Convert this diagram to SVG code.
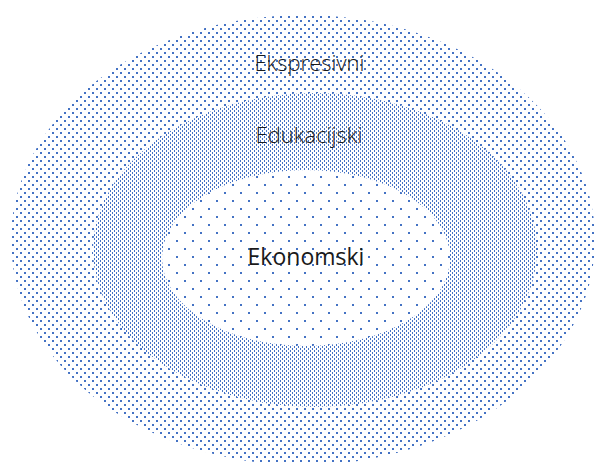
<svg xmlns="http://www.w3.org/2000/svg" width="599" height="463" viewBox="0 0 599 463">
<style>
.lbl{font-family:"Open Sans","Noto Sans","Liberation Sans",sans-serif;fill:#1a1a1a;text-anchor:middle}
.light{font-weight:300;font-size:22px}
.reg{font-weight:400;font-size:23px}
.d{fill:#4472C4;shape-rendering:crispEdges}
</style>
<defs>
<pattern id="pOuter" width="8" height="8" patternUnits="userSpaceOnUse">
<rect width="8" height="8" fill="#fff"/>
<rect class="d" x="0" y="0" width="2" height="2"/>
<rect class="d" x="4" y="4" width="2" height="2"/>
</pattern>
<pattern id="pMid" width="4" height="4" patternUnits="userSpaceOnUse">
<rect width="4" height="4" fill="#fff"/>
<rect class="d" x="0" y="0" width="1" height="2"/>
<rect class="d" x="2" y="2" width="1" height="2"/>
</pattern>
<pattern id="pIn" width="16" height="16" patternUnits="userSpaceOnUse">
<rect width="16" height="16" fill="#fff"/>
<rect class="d" x="0" y="0" width="2" height="2"/>
<rect class="d" x="8" y="8" width="2" height="2"/>
</pattern>
</defs>
<rect width="599" height="463" fill="#fff"/>
<g id="ekspresivni">
<ellipse cx="303" cy="240" rx="292" ry="225" fill="url(#pOuter)"/>
<text class="lbl light" x="309.5" y="71">Ekspresivni</text>
</g>
<g id="edukacijski">
<ellipse cx="315" cy="250" rx="222" ry="157" fill="url(#pMid)"/>
<text class="lbl light" x="309" y="143">Edukacijski</text>
</g>
<g id="ekonomski">
<ellipse cx="306" cy="258" rx="144" ry="88" fill="url(#pIn)"/>
<text class="lbl reg" x="306" y="265">Ekonomski</text>
</g>
<g id="connectors"/>
</svg>
